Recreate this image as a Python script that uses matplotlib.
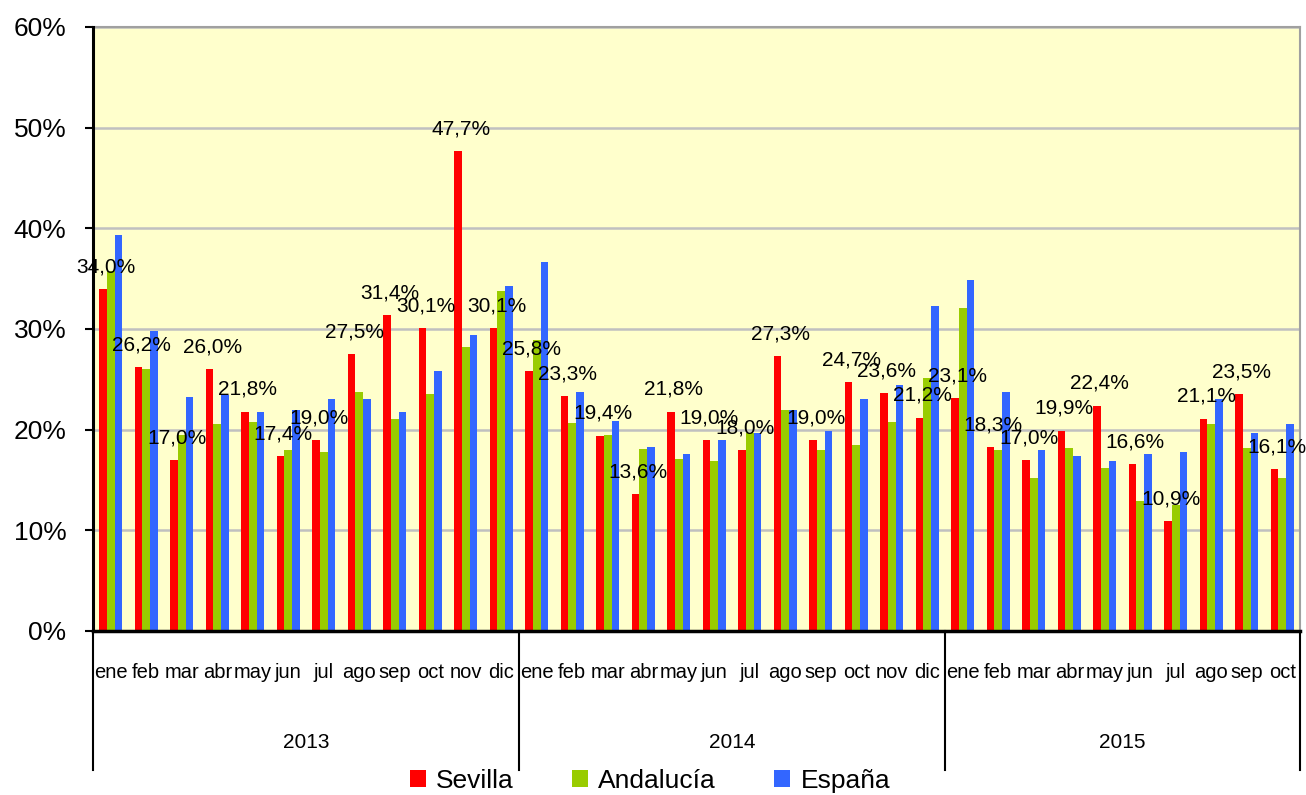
import matplotlib
matplotlib.use("Agg")
import matplotlib.pyplot as plt
import matplotlib.transforms as mtransforms
from matplotlib.patches import Patch
import numpy as np

years = ["2013", "2014", "2015"]
months_per_year = [12, 12, 10]
month_names = ["ene", "feb", "mar", "abr", "may", "jun", "jul", "ago", "sep", "oct", "nov", "dic"]

sevilla = [34.0, 26.2, 17.0, 26.0, 21.8, 17.4, 19.0, 27.5, 31.4, 30.1, 47.7, 30.1,
           25.8, 23.3, 19.4, 13.6, 21.8, 19.0, 18.0, 27.3, 19.0, 24.7, 23.6, 21.2,
           23.1, 18.3, 17.0, 19.9, 22.4, 16.6, 10.9, 21.1, 23.5, 16.1]
andalucia = [35.8, 26.0, 19.5, 20.6, 20.8, 18.0, 17.8, 23.7, 21.1, 23.5, 28.2, 33.8,
             28.9, 20.7, 19.5, 18.1, 17.1, 16.9, 19.7, 22.0, 18.0, 18.5, 20.8, 25.1,
             32.1, 18.0, 15.2, 18.2, 16.2, 12.9, 12.5, 20.6, 18.2, 15.2]
espana = [39.3, 29.8, 23.2, 23.4, 21.8, 22.0, 23.0, 23.0, 21.8, 25.8, 29.4, 34.3,
          36.7, 23.7, 20.9, 18.3, 17.6, 19.0, 19.7, 22.0, 19.9, 23.0, 24.4, 32.3,
          34.9, 23.7, 18.0, 17.4, 16.9, 17.6, 17.8, 23.0, 19.7, 20.6]
series_names = ["Sevilla", "Andalucía", "España"]
colors = ["#FF0000", "#99CC00", "#3366FF"]

labels = []
for n in months_per_year:
    labels += month_names[:n]

plt.rcParams['font.family'] = ['Liberation Sans', 'DejaVu Sans']

fig = plt.figure(figsize=(13.06, 7.95), dpi=100)
ax = fig.add_axes([93/1306, 1-631/795, (1300-93)/1306, (631-27)/795])
ax.set_facecolor("#FFFFCC")

x = np.arange(len(labels))
w = 0.215
for i, (vals, c) in enumerate(zip([sevilla, andalucia, espana], colors)):
    ax.bar(x + (i-1)*w, vals, width=w, color=c, zorder=3, linewidth=0)

for xi, v in zip(x - w, sevilla):
    ax.annotate(f"{v:.1f}%".replace(".", ","), (xi, v), xytext=(2, 16),
                textcoords="offset points", ha="center", va="center",
                fontsize=15, color="black", zorder=5, annotation_clip=False)

ax.set_xlim(-0.5, len(labels)-0.5)
ax.set_ylim(0, 60)
ax.set_yticks(np.arange(0, 61, 10))
ax.set_yticklabels([f"{t}%" for t in range(0, 61, 10)], fontsize=19)
ax.yaxis.grid(True, color="#C0C0C0", linewidth=1.8, zorder=0)
ax.tick_params(axis="y", direction="out", length=6, width=1.5, pad=13)
ax.set_xticks([])
for s in ["top", "right"]:
    ax.spines[s].set_color("#A0A0A0")
    ax.spines[s].set_linewidth(1.5)
ax.spines["left"].set_linewidth(2.2)
ax.spines["bottom"].set_linewidth(2.5)
ax.spines["left"].set_zorder(6)
ax.spines["bottom"].set_zorder(6)

trans = mtransforms.blended_transform_factory(ax.transData, ax.transAxes)
y_month = (631-673)/604
y_year = (631-743)/604
y_line = (631-770)/604
for xi, lab in zip(x, labels):
    ax.text(xi, y_month, lab, transform=trans, ha="center", va="center",
            fontsize=14.5)

start = 0
bounds = [-0.5]
for yr, n in zip(years, months_per_year):
    ax.text(start + (n-1)/2, y_year, yr, transform=trans, ha="center", va="center", fontsize=15)
    start += n
    bounds.append(start - 0.5)
for b in bounds:
    ax.plot([b, b], [0, y_line], transform=trans, color="black", linewidth=1.5, clip_on=False)

handles = [Patch(facecolor=c, edgecolor="none") for c in colors]
fig.legend(handles, series_names, loc="center", bbox_to_anchor=(650/1306, 1-781/795),
           ncol=3, frameon=False, fontsize=19, handlelength=0.6, handleheight=0.6,
           handletextpad=0.4, columnspacing=2.2, borderpad=0)

fig.savefig("out.png", dpi=100)
